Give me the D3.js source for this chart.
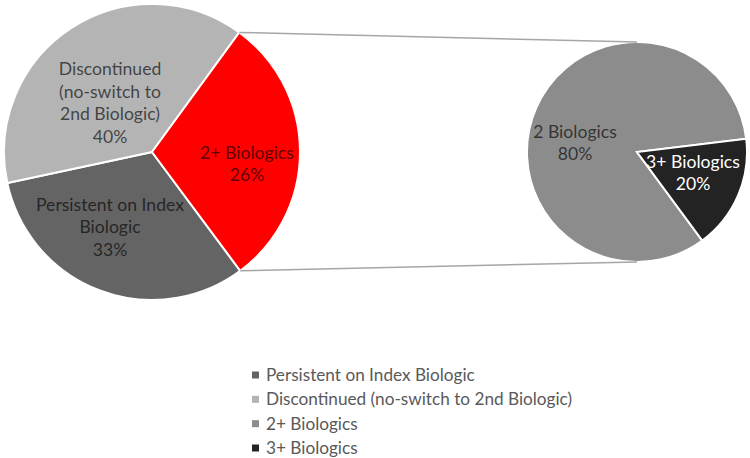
<!DOCTYPE html>
<html lang="en">
<head>
    <meta charset="UTF-8">
    <title>Pie of Pie - Biologics</title>
    <style>
        body {
            margin: 0;
            background: #fff;
        }
        svg text {
            font-family: Lato, "Open Sans", sans-serif;
        }
        .slice {
            stroke: #fff;
            stroke-width: 2px;
        }
        .connector {
            stroke: #a6a6a6;
            stroke-width: 1.5px;
        }
        .legend text {
            fill: #595959;
            font-size: 17.2px;
        }
    </style>
</head>
<body>
<svg id="chart" width="750" height="458"></svg>

<script src="https://cdn.jsdelivr.net/npm/d3@7"></script>
<script>
// main pie (share of slice, label as printed)
const mainCats = ['Persistent on Index Biologic', 'Discontinued (no-switch to 2nd Biologic)', '2+ Biologics'];
const mainShare = [31.8, 38.4, 29.8];
const mainLabels = [
    ['Persistent on Index', 'Biologic', '33%'],
    ['Discontinued', '(no-switch to', '2nd Biologic)', '40%'],
    ['2+ Biologics', '26%']
];
const mainColors = ['#646464', '#b4b4b4', '#ff0000'];

// secondary pie
const subCats = ['2 Biologics', '3+ Biologics'];
const subShare = [83.2, 16.8];
const subLabels = [
    ['2 Biologics', '80%'],
    ['3+ Biologics', '20%']
];
const subColors = ['#8c8c8c', '#232323'];

const legendCats = ['Persistent on Index Biologic', 'Discontinued (no-switch to 2nd Biologic)', '2+ Biologics', '3+ Biologics'];
const legendColors = ['#646464', '#b4b4b4', '#8c8c8c', '#232323'];

const svg = d3.select('#chart');
const deg = Math.PI / 180;

const main = {cx: 152, cy: 152, r: 148};
const sub = {cx: 637, cy: 152, r: 110};

// label block centres, relative to pie centre
const mainLabelPos = [[-42, 75], [-42, -49], [95, 12]];
const subLabelPos = [[-62, -9], [56, 21]];

function drawPie(cfg, values, colors, labels, start, labelPos, textFill) {
    const pie = d3.pie().sort(null).startAngle(start * deg).endAngle(start * deg + 2 * Math.PI);
    const arc = d3.arc().innerRadius(0).outerRadius(cfg.r);
    const arcs = pie(values);
    const g = svg.append('g').attr('transform', `translate(${cfg.cx},${cfg.cy})`);
    g.selectAll('path')
        .data(arcs)
        .enter().append('path')
        .attr('class', 'slice')
        .attr('fill', (d, i) => colors[i])
        .attr('d', arc);

    const lg = g.selectAll('text')
        .data(arcs)
        .enter().append('text')
        .attr('text-anchor', 'middle')
        .attr('font-size', 17.6)
        .attr('fill', (d, i) => textFill[i])
        .attr('fill-opacity', (d, i) => textFill[i] === '#000' ? 0.65 : 1);
    lg.each(function(d, i) {
        const lines = labels[i];
        const lh = 22.5;
        const y0 = labelPos[i][1] - (lines.length - 1) * lh / 2;
        d3.select(this).selectAll('tspan')
            .data(lines)
            .enter().append('tspan')
            .attr('x', labelPos[i][0])
            .attr('y', (t, j) => y0 + j * lh)
            .attr('dy', '0.35em')
            .text(t => t);
    });
    return arcs;
}

const mainArcs = drawPie(main, mainShare, mainColors, mainLabels, 143.4, mainLabelPos, ['#000', '#000', '#000']);
const subArcs = drawPie(sub, subShare, subColors, subLabels, 143.6, subLabelPos, ['#000', '#fff']);

// connector lines from the "other" slice edges to top/bottom of the second pie
const other = mainArcs[2];
const pt = (c, a) => [c.cx + c.r * Math.sin(a), c.cy - c.r * Math.cos(a)];
const pTop = pt(main, other.startAngle);
const pBot = pt(main, other.endAngle);
svg.append('line').attr('class', 'connector')
    .attr('x1', pTop[0]).attr('y1', pTop[1])
    .attr('x2', sub.cx).attr('y2', sub.cy - sub.r);
svg.append('line').attr('class', 'connector')
    .attr('x1', pBot[0]).attr('y1', pBot[1])
    .attr('x2', sub.cx).attr('y2', sub.cy + sub.r);

// legend
const ly = d3.scalePoint().domain(legendCats).range([375, 448]);
const legend = svg.append('g').attr('class', 'legend');
const item = legend.selectAll('g')
    .data(legendCats)
    .enter().append('g')
    .attr('transform', d => `translate(252,${ly(d)})`);
item.append('rect')
    .attr('x', 0).attr('y', -3.5)
    .attr('width', 7).attr('height', 7)
    .attr('fill', (d, i) => legendColors[i]);
item.append('text')
    .attr('x', 14)
    .attr('dy', '0.35em')
    .text(d => d);
</script>
</body>
</html>
